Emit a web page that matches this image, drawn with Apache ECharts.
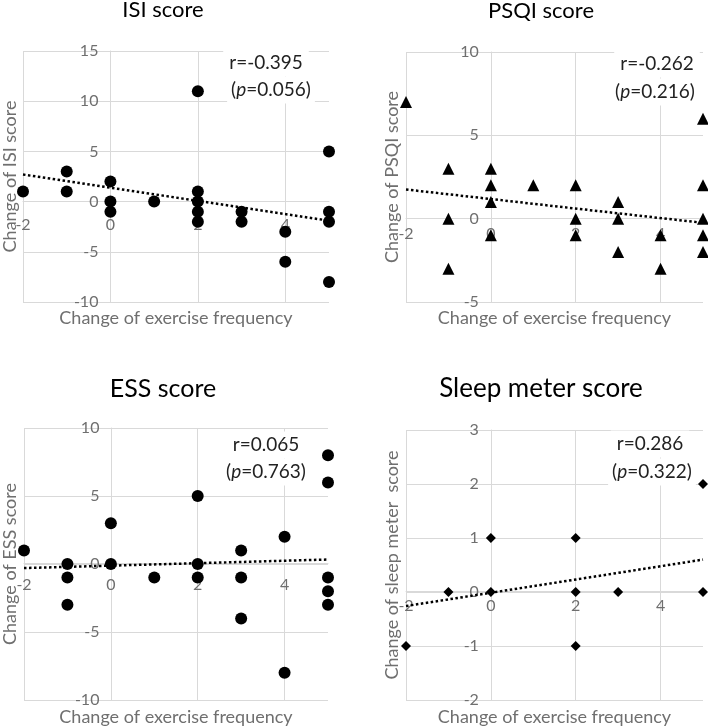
<!DOCTYPE html>
<html>
<head>
<meta charset="utf-8">
<script src="https://cdn.jsdelivr.net/npm/echarts@6/dist/echarts.min.js"></script>
<style>
html,body{margin:0;padding:0;background:#fff;}
#chart{width:708px;height:727px;}
</style>
</head>
<body>
<div id="chart"></div>
<script>
// ---- data ----
const panelTitles = ['ISI score', 'PSQI score', 'ESS score', 'Sleep meter score'];
const yNames = ['Change of ISI score', 'Change of PSQI score', 'Change of ESS score', 'Change of sleep meter  score'];
const xName = 'Change of exercise frequency';
const rValues = ['r=-0.395', 'r=-0.262', 'r=0.065', 'r=0.286'];
const pValues = ['0.056', '0.216', '0.763', '0.322'];

const isiX = [-2, -1, -1, 0, 0, 0, 1, 2, 2, 2, 2, 2, 3, 3, 4, 4, 5, 5, 5, 5];
const isiY = [1, 3, 1, 2, 0, -1, 0, 11, 1, 0, -1, -2, -1, -2, -3, -6, 5, -1, -2, -8];
const psqiX = [-2, -1, -1, -1, 0, 0, 0, 0, 1, 2, 2, 2, 3, 3, 3, 4, 4, 5, 5, 5, 5, 5];
const psqiY = [7, 3, 0, -3, 3, 2, 1, -1, 2, 2, 0, -1, 1, 0, -2, -1, -3, 6, 2, 0, -1, -2];
const essX = [-2, -1, -1, -1, 0, 0, 1, 2, 2, 2, 3, 3, 3, 4, 4, 5, 5, 5, 5, 5];
const essY = [1, 0, -1, -3, 3, 0, -1, 5, 0, -1, 1, -1, -4, 2, -8, 8, 6, -1, -2, -3];
const sleepX = [-2, -1, 0, 0, 2, 2, 2, 3, 5, 5];
const sleepY = [-1, 0, 1, 0, 1, 0, -1, 0, 2, 0];

const trendX = [-2, 5];
const isiTrend = [2.7, -1.9];
const psqiTrend = [1.75, -0.25];
const essTrend = [-0.3, 0.33];
const sleepTrend = [-0.26, 0.6];

const xRange = [-2, 5, 2];          // min, max, interval
const yRanges = [[-10, 15, 5], [-5, 10, 5], [-10, 10, 5], [-2, 3, 1]];
const symbols = ['circle', 'triangle', 'circle', 'diamond'];

// ---- layout / style ----
const FONT = 'Lato, "Noto Sans", sans-serif';
const grids = [
  {left: 23, top: 51, width: 306, height: 251},
  {left: 406, top: 52, width: 297, height: 250},
  {left: 22, top: 428, width: 306, height: 274},
  {left: 406, top: 430, width: 297, height: 272}
];
const symbolSizes = [12, 12, 12, 10];
const xLabelMargins = [15, 7, 14, 7];
const xNameGaps = [7, 7, 8, 8];
const yNameGaps = [4, 5, 5, 5];
const titlePos = [[163, 10], [541, 11], [163, 389], [541, 389]];
const titleSizes = [22, 22, 25, 26];
const rPos = [[266, 63], [657, 64], [266, 445], [650, 444]];
const pPos = [[271, 90], [655, 92], [266, 472], [652, 472]];

const xs = [isiX, psqiX, essX, sleepX];
const ys = [isiY, psqiY, essY, sleepY];
const trends = [isiTrend, psqiTrend, essTrend, sleepTrend];

const GRID = '#d9d9d9';
const LABEL = '#6f6f6f';

// shift an axis from the grid edge to the other axis' zero (axes cross at 0, Excel style)
function zeroShift(lengthPx, min, max) { return -lengthPx * (0 - min) / (max - min); }

const xAxes = [], yAxes = [], series = [], graphics = [];
for (let i = 0; i < 4; i++) {
  xAxes.push({
    type: 'value', gridIndex: i, position: 'bottom', min: xRange[0], max: xRange[1], interval: xRange[2],
    offset: zeroShift(grids[i].height, yRanges[i][0], yRanges[i][1]),
    axisLine: {show: true, onZero: false, lineStyle: {color: GRID, width: 1}},
    axisTick: {show: false},
    axisLabel: {color: LABEL, fontSize: 16, fontFamily: FONT, margin: xLabelMargins[i], showMaxLabel: false},
    splitLine: {show: true, showMaxLine: false, lineStyle: {color: GRID, width: 1}}
  });
  yAxes.push({
    type: 'value', gridIndex: i, position: 'left', min: yRanges[i][0], max: yRanges[i][1], interval: yRanges[i][2],
    offset: zeroShift(grids[i].width, xRange[0], xRange[1]),
    axisLine: {show: true, onZero: false, lineStyle: {color: GRID, width: 1}},
    axisTick: {show: false},
    axisLabel: {color: LABEL, fontSize: 16, fontFamily: FONT, margin: 12},
    splitLine: {show: true, lineStyle: {color: GRID, width: 1}}
  });
}
// name-only axes at the grid edges
for (let i = 0; i < 4; i++) {
  xAxes.push({
    type: 'value', gridIndex: i, position: 'bottom', min: xRange[0], max: xRange[1],
    axisLine: {show: false, onZero: false}, axisTick: {show: false}, axisLabel: {show: false}, splitLine: {show: false},
    name: xName, nameLocation: 'middle', nameGap: xNameGaps[i],
    nameTextStyle: {color: LABEL, fontSize: 18, fontFamily: FONT, verticalAlign: 'top'}
  });
  yAxes.push({
    type: 'value', gridIndex: i, position: 'left', min: yRanges[i][0], max: yRanges[i][1],
    axisLine: {show: false, onZero: false}, axisTick: {show: false}, axisLabel: {show: false}, splitLine: {show: false},
    name: yNames[i], nameLocation: 'middle', nameGap: yNameGaps[i],
    nameTextStyle: {color: LABEL, fontSize: 18, fontFamily: FONT}
  });
}
for (let i = 0; i < 4; i++) {
  series.push({
    type: 'scatter', xAxisIndex: i, yAxisIndex: i, clip: false,
    symbol: symbols[i], symbolSize: symbolSizes[i],
    itemStyle: {color: '#000', opacity: 1},
    data: xs[i].map((x, k) => [x, ys[i][k]]),
    z: 3
  });
  series.push({
    type: 'line', xAxisIndex: i, yAxisIndex: i, symbol: 'none', silent: true,
    lineStyle: {color: '#000', width: 2.5, type: [2.5, 2.5]},
    data: trendX.map((x, k) => [x, trends[i][k]]),
    z: 4
  });
  graphics.push({
    type: 'text', x: titlePos[i][0], y: titlePos[i][1],
    style: {text: panelTitles[i], font: titleSizes[i] + 'px ' + FONT, fill: '#000', align: 'center', verticalAlign: 'middle'}
  });
  graphics.push({
    type: 'text', x: rPos[i][0], y: rPos[i][1], z: 2,
    style: {text: rValues[i], font: '19px ' + FONT, fill: '#222', align: 'center', verticalAlign: 'middle',
            backgroundColor: '#fff', padding: [4, 6, 4, 6]}
  });
  graphics.push({
    type: 'text', x: pPos[i][0], y: pPos[i][1], z: 2,
    style: {
      text: '({i|p}=' + pValues[i] + ')', font: '19px ' + FONT, fill: '#222', align: 'center', verticalAlign: 'middle',
      backgroundColor: '#fff', padding: [4, 4, 4, 4],
      rich: {i: {fontStyle: 'italic', fontSize: 19, fontFamily: FONT, fill: '#222'}}
    }
  });
}

const chart = echarts.init(document.getElementById('chart'), null, {renderer: 'canvas'});
chart.setOption({
  animation: false,
  backgroundColor: '#fff',
  grid: grids.map(g => Object.assign({containLabel: false}, g)),
  xAxis: xAxes,
  yAxis: yAxes,
  series: series,
  graphic: graphics
});
</script>
</body>
</html>
